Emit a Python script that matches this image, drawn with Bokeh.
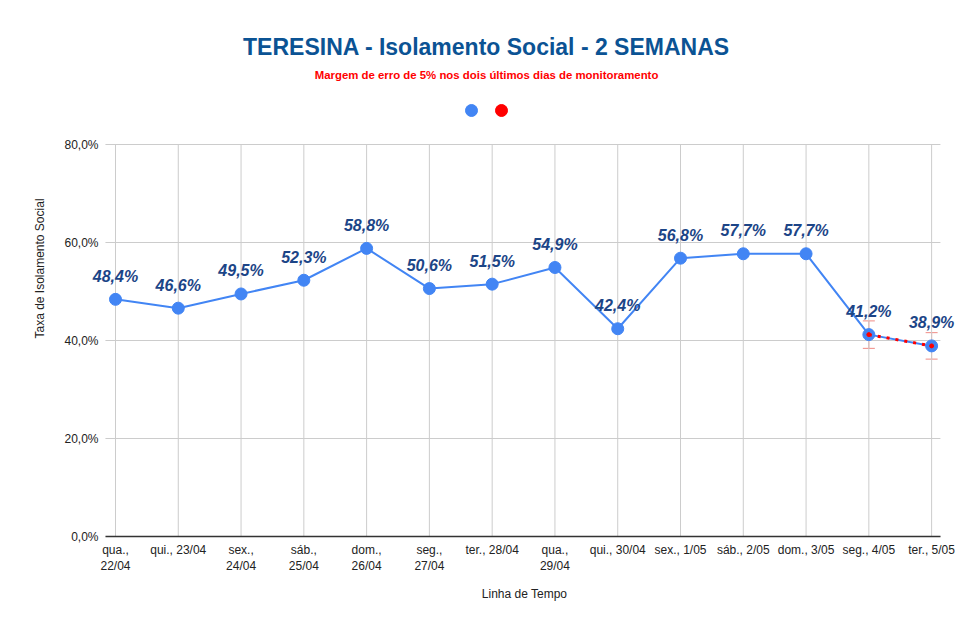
from bokeh.plotting import figure
from bokeh.models import (ColumnDataSource, FixedTicker, Label, Legend, LegendItem,
                          Whisker, TeeHead, Range1d)
from bokeh.core.properties import value
from bokeh.embed import file_html
from bokeh.resources import INLINE

# ---------------- data ----------------
dias = ["qua.,\n22/04", "qui., 23/04", "sex.,\n24/04", "sáb.,\n25/04", "dom.,\n26/04",
        "seg.,\n27/04", "ter., 28/04", "qua.,\n29/04", "qui., 30/04", "sex., 1/05",
        "sáb., 2/05", "dom., 3/05", "seg., 4/05", "ter., 5/05"]
isolamento = [48.4, 46.6, 49.5, 52.3, 58.8, 50.6, 51.5, 54.9, 42.4, 56.8, 57.7, 57.7, 41.2, 38.9]
ultimos_idx = [12, 13]          # two last monitoring days (5% margin)
margem = [2.8, 2.7]             # error bar half-widths
y_ticks = [0, 20, 40, 60, 80]
y_tick_labels = ["0,0%", "20,0%", "40,0%", "60,0%", "80,0%"]

titulo = "TERESINA - Isolamento Social - 2 SEMANAS"
subtitulo = "Margem de erro de 5% nos dois últimos dias de monitoramento"

BLUE = "#4285F4"
RED = "#FF0000"
GRID = "#cccccc"
FONT = "Liberation Sans"

# layout constants (data-space extents of the plotting area)
X_LO, X_HI = -0.16, 13.14      # axis / grid extent
Y_LO, Y_HI = 0, 80

xs = list(range(len(dias)))
src = ColumnDataSource(dict(x=xs, y=isolamento,
                            lab=[f"{v:.1f}".replace(".", ",") + "%" for v in isolamento]))
ux = [xs[i] for i in ultimos_idx]
uy = [isolamento[i] for i in ultimos_idx]
src_u = ColumnDataSource(dict(x=ux, y=uy,
                              lo=[v - e for v, e in zip(uy, margem)],
                              hi=[v + e for v, e in zip(uy, margem)]))

p = figure(width=966, height=616, output_backend="svg", toolbar_location=None,
           title_location=None,
           x_range=Range1d(-0.43, 13.46), y_range=Range1d(0, 109.39),
           min_border_left=88, min_border_right=6, min_border_top=0, min_border_bottom=80)
p.outline_line_color = None
p.background_fill_color = "white"
p.border_fill_color = "white"
p.grid.visible = False

# grid lines limited to the chart area
p.segment(x0=xs, x1=xs, y0=[Y_LO] * len(xs), y1=[Y_HI] * len(xs),
          line_color=GRID, line_width=1)
p.segment(x0=[X_LO] * len(y_ticks), x1=[X_HI] * len(y_ticks), y0=y_ticks, y1=y_ticks,
          line_color=GRID, line_width=1)

# axes
p.xaxis.bounds = (X_LO, X_HI)
p.xaxis.ticker = FixedTicker(ticks=xs)
p.xaxis.major_label_overrides = {i: d for i, d in zip(xs, dias)}
p.xaxis.axis_label = "Linha de Tempo"
p.xaxis.axis_line_color = "#333333"
p.xaxis.axis_line_width = 1.5
p.xaxis.major_tick_line_color = None
p.xaxis.minor_tick_line_color = None
p.xaxis.major_label_standoff = 0
p.xaxis.axis_label_standoff = 11

p.yaxis.bounds = (Y_LO, Y_HI)
p.yaxis.ticker = FixedTicker(ticks=y_ticks)
p.yaxis.major_label_overrides = {t: l for t, l in zip(y_ticks, y_tick_labels)}
p.yaxis.axis_label = "Taxa de Isolamento Social"
p.yaxis.axis_line_color = None
p.yaxis.major_tick_line_color = None
p.yaxis.minor_tick_line_color = None
p.yaxis.major_label_standoff = -16
p.yaxis.axis_label_standoff = 14

for ax in (p.xaxis, p.yaxis):
    ax.major_label_text_font = FONT
    ax.major_label_text_font_size = "12px"
    ax.major_label_text_color = "#222222"
    ax.axis_label_text_font = FONT
    ax.axis_label_text_font_size = "12px"
    ax.axis_label_text_font_style = "normal"
    ax.axis_label_text_color = "#222222"

# series
p.line("x", "y", source=src, line_color=BLUE, line_width=2)
blue_pts = p.scatter("x", "y", source=src, size=12, fill_color=BLUE, line_color=BLUE)

p.line("x", "y", source=src_u, line_color=RED, line_width=3, line_dash="3 6")
red_pts = p.scatter("x", "y", source=src_u, size=4, fill_color=RED, line_color=RED)

p.add_layout(Whisker(source=src_u, base="x", upper="hi", lower="lo", dimension="height",
                     line_color="#f08a84", line_width=1,
                     upper_head=TeeHead(size=12, line_color="#f08a84", line_width=1),
                     lower_head=TeeHead(size=12, line_color="#f08a84", line_width=1)))

p.text("x", "y", text="lab", source=src, y_offset=-23, text_align="center",
       text_baseline="middle", text_font=value(FONT), text_font_size="16px",
       text_font_style="bold italic", text_color="#1c4587")

# titles (placed in the empty area above the chart)
TITLE_X = 5.91
p.add_layout(Label(x=TITLE_X, y=100.0, text=titulo, text_align="center",
                   text_baseline="middle", text_font=FONT, text_font_size="23px",
                   text_font_style="bold", text_color="#0b5394"))
p.add_layout(Label(x=TITLE_X, y=94.1, text=subtitulo, text_align="center",
                   text_baseline="middle", text_font=FONT, text_font_size="11.4px",
                   text_font_style="bold", text_color=RED))

legend = Legend(items=[LegendItem(label=" ", renderers=[blue_pts]),
                       LegendItem(label=" ", renderers=[red_pts])],
                orientation="horizontal", location=(368, 411),
                glyph_width=30, glyph_height=30, label_width=0,
                label_standoff=0, spacing=0, padding=0, margin=0,
                border_line_alpha=0, background_fill_alpha=0,
                label_text_font_size="1px")
p.add_layout(legend, "center")

open("out.html", "w").write(file_html(p, INLINE))
